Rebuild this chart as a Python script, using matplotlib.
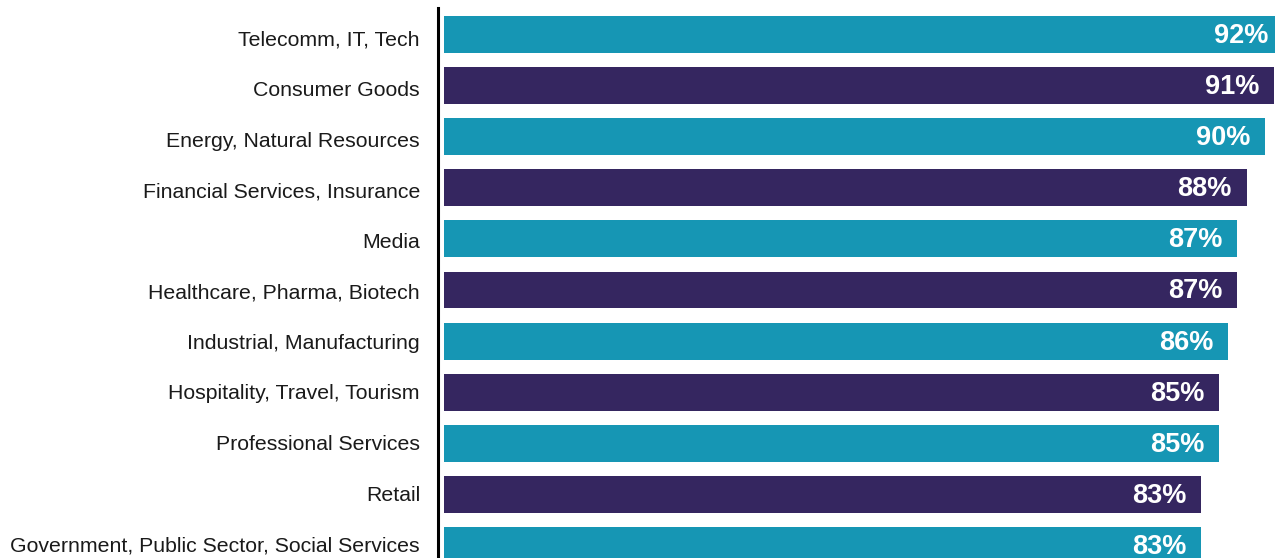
import matplotlib
matplotlib.use("Agg")
import matplotlib.pyplot as plt
from matplotlib.transforms import blended_transform_factory, offset_copy

categories = [
    "Telecomm, IT, Tech",
    "Consumer Goods",
    "Energy, Natural Resources",
    "Financial Services, Insurance",
    "Media",
    "Healthcare, Pharma, Biotech",
    "Industrial, Manufacturing",
    "Hospitality, Travel, Tourism",
    "Professional Services",
    "Retail",
    "Government, Public Sector, Social Services",
]
values = [92, 91, 90, 88, 87, 87, 86, 85, 85, 83, 83]
labels = ["92%", "91%", "90%", "88%", "87%", "87%", "86%", "85%", "85%", "83%", "83%"]

TEAL = "#1696B4"
PURPLE = "#352660"
colors = [TEAL if i % 2 == 0 else PURPLE for i in range(len(values))]

plt.rcParams['font.family'] = ['Liberation Sans', 'DejaVu Sans']

W, H = 1275, 558
fig = plt.figure(figsize=(W / 100, H / 100), dpi=100)
ax_left = 438 / W
ax_top = 8 / H
ax = fig.add_axes([ax_left, 0.0, 1 - ax_left, 1 - ax_top])

px_per = 9.12
x0 = -(444 - 438) / px_per
x1 = (1275 - 444) / px_per
ax.set_xlim(x0, x1)

pitch = 51.14
ytop = -(34.3 - 8) / pitch
ybot = ytop + 550 / pitch
ax.set_ylim(ybot, ytop)

ypos = list(range(len(values)))
ax.barh(ypos, values, height=0.72, color=colors, left=0)

for y, v, lab in zip(ypos, values, labels):
    ax.annotate(lab, xy=(v, y), xytext=(-10.5, -1), textcoords="offset points",
                ha="right", va="center", color="white", fontsize=19.5,
                fontweight="bold", annotation_clip=False)

# category labels (slightly tighter spacing than bars, as in the reference)
trans = offset_copy(blended_transform_factory(ax.transAxes, ax.transData),
                    fig=fig, x=-18, y=0, units="dots")
for i, cat in enumerate(categories):
    ax.text(0, i * 0.9888 + 0.072, cat, transform=trans, ha="right",
            va="center_baseline", fontsize=15.3, color="#1a1a1a")

ax.set_yticks([])
ax.set_xticks([])
for s in ["top", "right", "bottom"]:
    ax.spines[s].set_visible(False)
ax.spines["left"].set_linewidth(2.2)
ax.spines["left"].set_color("black")

fig.savefig("out.png", dpi=100)
